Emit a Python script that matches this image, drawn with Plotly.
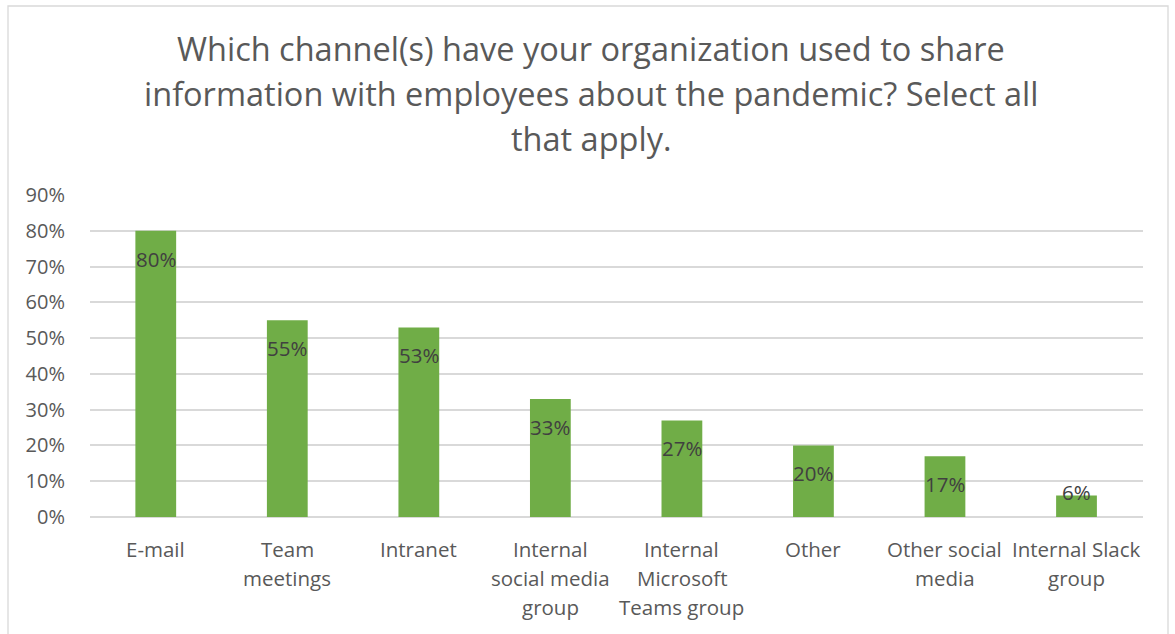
import plotly.graph_objects as go

# Survey results: share of organizations using each channel (%)
categories = [
    "E-mail",
    "Team meetings",
    "Intranet",
    "Internal social media group",
    "Internal Microsoft Teams group",
    "Other",
    "Other social media",
    "Internal Slack group",
]
category_lines = [
    ["E-mail"],
    ["Team", "meetings"],
    ["Intranet"],
    ["Internal", "social media", "group"],
    ["Internal", "Microsoft", "Teams group"],
    ["Other"],
    ["Other social", "media"],
    ["Internal Slack", "group"],
]
values = [80, 55, 53, 33, 27, 20, 17, 6]
y_ticks = [0, 10, 20, 30, 40, 50, 60, 70, 80, 90]
title_lines = [
    "Which channel(s) have your organization used to share",
    "information with employees about the pandemic? Select all",
    "that apply.",
]

W, H = 1175, 634
L, R, T, B = 90, 32, 195, 117
plot_w, plot_h = W - L - R, H - T - B

FONT = "Open Sans"
GREEN = "#70AD47"
GRID = "#D9D9D9"
TEXT = "#595959"
LABEL = "#404040"


def px_to_paper_x(px):
    return (px - L) / plot_w


def px_to_paper_y(py):
    return (H - B - py) / plot_h


fig = go.Figure(
    go.Bar(
        x=categories,
        y=values,
        marker=dict(color=GREEN, line=dict(width=0)),
        hoverinfo="skip",
    )
)

annotations = []

# Title, one annotation per line for Office-like line spacing
for i, line in enumerate(title_lines):
    annotations.append(dict(
        text=line, xref="paper", yref="paper",
        x=px_to_paper_x(591), y=px_to_paper_y(48 + i * 45.5),
        xanchor="center", yanchor="middle", showarrow=False,
        font=dict(family=FONT, size=32.5, color=TEXT),
    ))

# Data labels just inside the top of each bar
for cat, v in zip(categories, values):
    annotations.append(dict(
        text=f"{v}%", x=cat, y=max(v - 7.8, 7.0), xref="x", yref="y",
        xanchor="center", yanchor="middle", showarrow=False,
        font=dict(family=FONT, size=20.5, color=LABEL),
    ))

# Category labels, wrapped across lines
for cat, lines in zip(categories, category_lines):
    for j, line in enumerate(lines):
        annotations.append(dict(
            text=line, x=cat, y=px_to_paper_y(549 + j * 29),
            xref="x", yref="paper",
            xanchor="center", yanchor="middle", showarrow=False,
            font=dict(family=FONT, size=20.5, color=TEXT),
        ))

# Chart area border
shapes = [dict(
    type="rect", xref="paper", yref="paper",
    x0=px_to_paper_x(8), x1=px_to_paper_x(1168),
    y0=px_to_paper_y(640), y1=px_to_paper_y(6),
    line=dict(color=GRID, width=1.3), fillcolor="rgba(0,0,0,0)", layer="below",
)]

fig.update_layout(
    width=W, height=H,
    margin=dict(l=L, r=R, t=T, b=B, pad=0),
    paper_bgcolor="white", plot_bgcolor="white",
    bargap=0.69,
    showlegend=False,
    annotations=annotations,
    shapes=shapes,
    font=dict(family=FONT, color=TEXT),
)
fig.update_xaxes(
    showticklabels=False, showgrid=False, zeroline=False,
    showline=False, ticks="", fixedrange=True,
)
fig.update_yaxes(
    range=[0, 90], tickvals=y_ticks, ticktext=[f"{t}%" for t in y_ticks],
    showgrid=True, gridcolor=GRID, gridwidth=1.5,
    zeroline=True, zerolinecolor=GRID, zerolinewidth=1.5,
    showline=False, ticks="", ticklabelstandoff=24,
    tickfont=dict(family=FONT, size=20, color=TEXT), fixedrange=True,
)

fig.write_html("out.html", config={"displayModeBar": False})
